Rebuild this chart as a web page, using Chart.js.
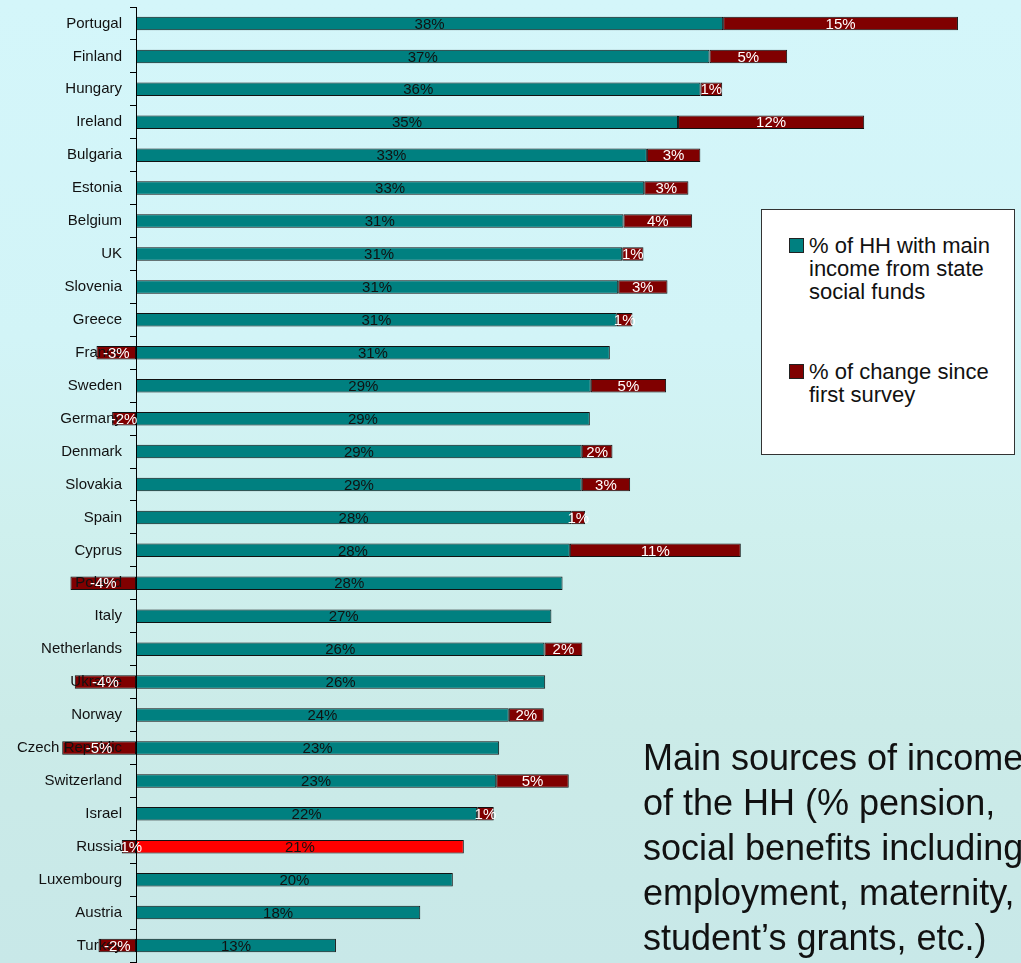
<!DOCTYPE html>
<html>
<head>
<meta charset="utf-8">
<script src="https://cdn.jsdelivr.net/npm/chart.js@4.4.1/dist/chart.umd.min.js"></script>
<style>
  html, body { margin: 0; padding: 0; width: 1021px; height: 963px; overflow: hidden; }
  body {
    background: linear-gradient(180deg, #d4f6fa 0%, #d2f4f7 35%, #cff0ee 55%, #cbebe8 75%, #c8e8e8 100%);
    font-family: "Liberation Sans", Arial, sans-serif;
  }
  #wrap { position: relative; width: 1021px; height: 963px; }
  #chart { position: absolute; left: 0; top: 0; }
  #legend {
    position: absolute; left: 761px; top: 209px; width: 254px; height: 246px;
    background: #ffffff; border: 1px solid #333; box-sizing: border-box;
  }
  .item { position: absolute; left: 47px; font-size: 22px; line-height: 23px; color: #111; white-space: nowrap; }
  .sw { position: absolute; width: 15px; height: 15px; border: 1px solid #222; box-sizing: border-box; left: -20px; top: 4px; }
  .item span.t { display: block; }
  #note {
    position: absolute; left: 643px; top: 735px; font-size: 36px; line-height: 45px;
    color: #111; white-space: nowrap;
  }
</style>
</head>
<body>
<div id="wrap">
  <canvas id="chart" width="1021" height="963"></canvas>
  <div id="legend"></div>
  <div id="note"></div>
</div>
<script>
const categories = ["Portugal", "Finland", "Hungary", "Ireland", "Bulgaria", "Estonia", "Belgium", "UK",
  "Slovenia", "Greece", "France", "Sweden", "Germany", "Denmark", "Slovakia", "Spain", "Cyprus", "Poland",
  "Italy", "Netherlands", "Ukraine", "Norway", "Czech Republic", "Switzerland", "Israel", "Russia",
  "Luxembourg", "Austria", "Turkey"];

const stateFunds = [37.88, 37.0, 36.42, 34.97, 32.96, 32.79, 31.45, 31.37, 31.11, 31.02, 30.57, 29.34,
  29.28, 28.76, 28.76, 28.08, 27.99, 27.52, 26.8, 26.35, 26.4, 24.05, 23.43, 23.24, 22.01, 21.15, 20.44,
  18.34, 12.9];

const changeSinceFirst = [15.15, 5.01, 1.4, 12.01, 3.45, 2.85, 4.43, 1.37, 3.18, 1.01, -2.55, 4.86,
  -1.54, 1.98, 3.12, 0.9, 11.03, -4.23, null, 2.45, -3.95, 2.26, -4.76, 4.68, 1.07, -0.92, null, null, -2.42];

const seriesNames = ["% of HH with main income from state social funds", "% of change since first survey"];
const legendLines = [["% of HH with main", "income from state", "social funds"], ["% of change since", "first survey"]];
const noteLines = ["Main sources of income", "of the HH (% pension,", "social benefits including",
  "employment, maternity,", "student\u2019s grants, etc.)"];
const highlighted = "Russia";

const TEAL = "#008080", DARKRED = "#800000", BRIGHTRED = "#ff0000";
const FONT = "'Liberation Sans', Arial, sans-serif";

const tealColors = categories.map(c => c === highlighted ? BRIGHTRED : TEAL);

const labelPlugin = {
  id: "barLabels",
  afterDraw(chart) {
    const ctx = chart.ctx;
    ctx.save();
    ctx.font = "15px " + FONT;
    ctx.textAlign = "center";
    ctx.textBaseline = "middle";
    chart.data.datasets.forEach((ds, di) => {
      const meta = chart.getDatasetMeta(di);
      meta.data.forEach((el, i) => {
        const v = ds.data[i];
        if (v === null || v === undefined) return;
        const x = (el.x + el.base) / 2;
        ctx.fillStyle = di === 0 ? "#111" : "#ffffff";
        ctx.fillText(Math.round(v) + "%", x, el.y + 1);
      });
    });
    ctx.restore();
  }
};

new Chart(document.getElementById("chart"), {
  type: "bar",
  data: {
    labels: categories,
    datasets: [
      { label: seriesNames[0], data: stateFunds, backgroundColor: tealColors, borderColor: "#111",
        borderWidth: 1, borderSkipped: false, clip: false, barPercentage: 0.41, categoryPercentage: 1 },
      { label: seriesNames[1], data: changeSinceFirst, backgroundColor: DARKRED, borderColor: "#111",
        borderWidth: 1, borderSkipped: false, clip: false, barPercentage: 0.41, categoryPercentage: 1 }
    ]
  },
  options: {
    indexAxis: "y",
    responsive: false,
    animation: false,
    layout: { padding: { left: 0, right: 17, top: 7, bottom: 1 } },
    plugins: { legend: { display: false }, tooltip: { enabled: false } },
    scales: {
      x: { stacked: true, min: 0, max: 56, display: false },
      y: {
        stacked: true,
        afterFit(scale) { scale.width = 136; scale.paddingTop = 0; scale.paddingBottom = 0; },
        grid: { display: true, drawOnChartArea: false, drawTicks: true, tickLength: 6, color: "#000", offset: true, z: 1 },
        border: { display: true, color: "#000", width: 1, z: 1 },
        ticks: { color: "#111", font: { family: FONT, size: 15 }, padding: 8, autoSkip: false, z: 1 }
      }
    }
  },
  plugins: [labelPlugin]
});

// HTML legend built from series definitions
const legend = document.getElementById("legend");
const swColors = [TEAL, DARKRED];
const itemTops = [24, 150];
legendLines.forEach((lines, k) => {
  const it = document.createElement("div");
  it.className = "item";
  it.style.top = itemTops[k] + "px";
  const sw = document.createElement("div");
  sw.className = "sw";
  sw.style.background = swColors[k];
  it.appendChild(sw);
  lines.forEach(l => {
    const s = document.createElement("span");
    s.className = "t";
    s.textContent = l;
    it.appendChild(s);
  });
  legend.appendChild(it);
});

document.getElementById("note").innerHTML = noteLines.map(l => l.replace(/&/g, "&amp;")).join("<br>");
</script>
</body>
</html>
